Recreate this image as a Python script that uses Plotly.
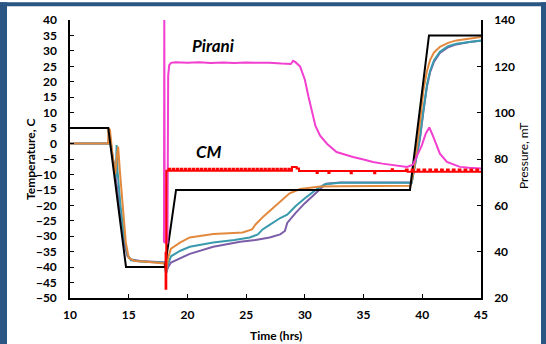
import plotly.graph_objects as go

# ---------------- data ----------------
black_t = [10, 13.26, 14.77, 18.09, 19.03, 38.95, 40.57, 45]
black_v = [5, 5, -40, -40, -15, -15, 35, 35]

orange_t = [10, 13.25, 13.27, 13.4, 13.6, 13.85, 14.0, 14.1, 14.25, 14.5,
            14.75, 15.0, 15.5, 16.5, 17.5, 18.05, 18.18, 18.35, 18.6, 19.0,
            19.4, 20.2, 21.0, 22.2, 23.5, 24.7, 25.5, 25.8, 26.5, 27.5,
            28.7, 29.6, 30.5, 31.3, 33.0, 36.0, 39.0, 39.3, 39.6, 39.8,
            40.1, 40.4, 40.66, 41.0, 41.5, 42.2, 42.9, 44.0, 45.0]
orange_v = [0, 0, 5, 4.5, -3, -10, -4, -1, -9, -22,
            -32, -37, -38, -38.3, -38.6, -38.8, -41.5, -37, -34, -33,
            -32, -30.4, -29.9, -29.3, -29, -28.8, -27.8, -26.2, -23.5, -20,
            -16.1, -14.7, -14.2, -13.9, -13.8, -13.7, -13.7, -8, 0, 6.8,
            17.4, 23.5, 27, 29.5, 31.3, 32.6, 33.4, 34.1, 34.5]

teal_t = [10, 13.25, 13.35, 13.6, 13.9, 13.97, 14.05, 14.3, 14.6, 14.9,
          15.2, 16.0, 17.0, 18.05, 18.18, 18.35, 18.6, 19.0, 19.4, 20.2,
          22.2, 24.0, 25.3, 26.0, 26.4, 27.0, 27.9, 28.5, 29.2, 30.0,
          31.1, 31.7, 33.0, 39.1, 39.4, 39.8, 40.1, 40.4, 40.66, 41.0,
          41.5, 42.2, 42.9, 44.0, 45.0]
teal_v = [0, 0, 2, -4, -11, -0.5, -9, -20, -30, -36,
          -37.8, -38.2, -38.4, -38.6, -42, -39, -36.5, -35.5, -34.7, -33.4,
          -32.0, -31.2, -30.4, -29.4, -27.8, -26.3, -24.1, -23, -20.3, -17.7,
          -14.5, -13.2, -12.7, -12.7, -6, 2, 11, 19, 23.5, 27,
          29.7, 31.5, 32.3, 33.0, 33.4]

purple_t = [10, 13.25, 13.4, 13.7, 14.0, 14.3, 14.6, 14.9, 15.2, 16.0,
            17.0, 18.05, 18.18, 18.35, 18.6, 19.0, 19.4, 20.2, 22.2, 24.5,
            25.8, 27.0, 27.9, 28.3, 28.5, 29.2, 30.0, 30.9, 31.3, 31.8,
            33.0, 39.1, 39.4, 39.8, 40.1, 40.4, 40.66, 41.0, 41.5, 42.2,
            42.9, 44.0, 45.0]
purple_v = [0, 0, 2, -6, -14, -24, -32, -36.5, -37.5, -38,
            -38.3, -38.5, -42, -40, -38.5, -37.8, -37.0, -35.7, -33.4, -31.8,
            -31.2, -30.4, -29.4, -28.3, -25.7, -22.5, -19.3, -16.1, -14.5, -13.0,
            -12.6, -12.6, -6.5, 1.5, 10.5, 18.5, 23, 26.5, 29.3, 31.2,
            32.1, 32.9, 33.3]

pirani_t = [18.0, 18.03, 18.07, 18.3, 18.36, 18.45, 18.6, 19.0, 20, 21,
            22, 23, 24, 25, 26, 27, 28, 28.8, 29.0, 29.2,
            29.6, 30.0, 30.3, 30.6, 30.9, 31.3, 31.9, 32.7, 33.4, 34.1,
            35.0, 35.8, 36.6, 37.5, 38.7, 39.2, 39.95, 40.3, 40.6, 40.9,
            41.5, 42.1, 43.2, 44.0, 45.0]
pirani_v = [44, 140, 44, 44, 116, 120.5, 121.5, 121.8, 121.5, 121.8,
            121.4, 121.7, 121.4, 121.7, 121.5, 121.6, 121.2, 121.0, 122.4, 121.8,
            119.9, 114.2, 107.1, 100, 94.3, 90.1, 86.5, 83.0, 81.8, 80.9,
            79.8, 78.7, 78.0, 77.3, 76.6, 77.5, 85.8, 91, 93.6, 90.1,
            82.3, 78.7, 76.6, 76.2, 75.9]

cm_t = [18.13, 18.14, 18.20,
        18.40, 18.52, 18.74, 18.86, 19.08, 19.20, 19.42, 19.54, 19.76, 19.88,
        20.10, 20.22, 20.44, 20.56, 20.78, 20.90, 21.12, 21.24, 21.46, 21.58,
        21.80, 21.92, 22.14, 22.26, 22.48, 22.60, 22.82, 22.94, 23.16, 23.28,
        23.50, 23.62, 23.84, 23.96, 24.18, 24.30, 24.52, 24.64, 24.86, 24.98,
        25.20, 25.32, 25.54, 25.66, 25.88, 26.00, 26.22, 26.34, 26.56, 26.68,
        26.90, 27.02, 27.24, 27.36, 27.58, 27.70, 27.92, 28.04, 28.26, 28.38,
        28.60, 28.72,
        28.90, 29.30, 29.50, 31.00, 31.10, 32.00, 32.10, 33.90, 34.00, 35.90,
        36.00, 37.40, 37.50,
        38.60, 38.75, 39.10, 39.25, 39.60, 39.75, 40.10, 40.25, 40.60, 40.75,
        41.10, 41.25, 41.60, 41.75, 42.10, 42.25, 42.60, 42.75, 43.10, 43.25,
        43.60, 43.75, 44.10, 44.25, 44.60, 44.75, 45.00]
cm_v = [40, 24, 74.9,
        75.8, 74.9, 75.8, 74.9, 75.8, 74.9, 75.8, 74.9, 75.8, 74.9,
        75.8, 74.9, 75.8, 74.9, 75.8, 74.9, 75.8, 74.9, 75.8, 74.9,
        75.8, 74.9, 75.8, 74.9, 75.8, 74.9, 75.8, 74.9, 75.8, 74.9,
        75.8, 74.9, 75.8, 74.9, 75.8, 74.9, 75.8, 74.9, 75.8, 74.9,
        75.8, 74.9, 75.8, 74.9, 75.8, 74.9, 75.8, 74.9, 75.8, 74.9,
        75.8, 74.9, 75.8, 74.9, 75.8, 74.9, 75.8, 74.9, 75.8, 74.9,
        75.8, 74.9,
        76.5, 75.9, 74.8, 74.0, 74.8, 74.0, 74.8, 73.9, 74.8, 73.9,
        74.8, 75.6, 74.8,
        75.5, 74.5, 75.5, 74.5, 75.5, 74.5, 75.5, 74.5, 75.5, 74.5,
        75.5, 74.5, 75.5, 74.5, 75.5, 74.5, 75.5, 74.5, 75.5, 74.5,
        75.5, 74.5, 75.5, 74.5, 75.5, 74.5, 74.5]

x_ticks = [10, 15, 20, 25, 30, 35, 40, 45]
temp_ticks = [-50, -45, -40, -35, -30, -25, -20, -15, -10, -5, 0, 5, 10, 15, 20, 25, 30, 35, 40]
pres_ticks = [20, 40, 60, 80, 100, 120, 140]

# ---------------- figure ----------------
FONT = "Lato"
fig = go.Figure()

def temp_line(t, v, color, width=2):
    fig.add_trace(go.Scatter(x=t, y=v, mode="lines", line=dict(color=color, width=width),
                             yaxis="y", showlegend=False, hoverinfo="skip"))

temp_line(purple_t, purple_v, "#7b5ea7")
temp_line(teal_t, teal_v, "#3a9aad")
temp_line(orange_t, orange_v, "#e2893d")
temp_line(black_t, black_v, "#000000")

fig.add_trace(go.Scatter(x=pirani_t, y=pirani_v, mode="lines",
                         line=dict(color="#f23fcf", width=2), yaxis="y2",
                         showlegend=False, hoverinfo="skip"))
fig.add_trace(go.Scatter(x=cm_t, y=cm_v, mode="lines",
                         line=dict(color="#ff0000", width=2, shape="hv"), yaxis="y2",
                         showlegend=False, hoverinfo="skip"))

tickfont = dict(family=FONT, size=12, color="#000000", weight="bold")
axis_common = dict(showline=True, linecolor="#000000", linewidth=1.5, ticks="inside",
                   ticklen=4, tickwidth=1, tickcolor="#000000", showgrid=False,
                   zeroline=False, tickfont=tickfont)

fig.update_layout(
    width=546, height=344, autosize=False,
    margin=dict(l=70, r=65, t=16, b=46),
    paper_bgcolor="#ffffff", plot_bgcolor="#ffffff",
    xaxis=dict(range=[10, 45], tickvals=x_ticks, ticklabelstandoff=5, **axis_common),
    yaxis=dict(range=[-50, 40], tickvals=temp_ticks, ticklabelstandoff=9, **axis_common),
    yaxis2=dict(range=[20, 140], tickvals=pres_ticks, overlaying="y", side="right",
                ticklabelstandoff=9, **axis_common),
)

W = 411.0
H = 282.0
def px(p):
    return (p - 70) / W
def py(p):
    return (298 - p) / H

annotations = [
    dict(text="Temperature, C", xref="paper", yref="paper", x=px(30), y=py(157),
         textangle=-90, showarrow=False, xanchor="center", yanchor="middle",
         font=dict(family=FONT, size=12, color="#000000", weight="bold")),
    dict(text="Pressure, mT", xref="paper", yref="paper", x=px(523), y=py(154),
         textangle=-90, showarrow=False, xanchor="center", yanchor="middle",
         font=dict(family=FONT, size=12, color="#000000")),
    dict(text="Time (hrs)", xref="paper", yref="paper", x=0.5, y=py(336),
         showarrow=False, xanchor="center", yanchor="middle",
         font=dict(family=FONT, size=12, color="#000000", weight="bold")),
    dict(text="<i>Pirani</i>", xref="x", yref="y", x=22.2, y=31.6, showarrow=False,
         xanchor="center", yanchor="middle",
         font=dict(family=FONT, size=17, color="#000000", weight="bold")),
    dict(text="<i>CM</i>", xref="x", yref="y", x=21.85, y=-2.6, showarrow=False,
         xanchor="center", yanchor="middle",
         font=dict(family=FONT, size=17, color="#000000", weight="bold")),
]
fig.update_layout(annotations=annotations)

BLUE = "#2b5684"
shapes = [
    dict(type="rect", xref="paper", yref="paper", x0=px(-2), x1=px(7), y0=py(350), y1=py(-2),
         fillcolor=BLUE, line=dict(width=0)),
    dict(type="rect", xref="paper", yref="paper", x0=px(541), x1=px(550), y0=py(350), y1=py(-2),
         fillcolor=BLUE, line=dict(width=0)),
    dict(type="rect", xref="paper", yref="paper", x0=px(-2), x1=px(550), y0=py(2), y1=py(-2),
         fillcolor=BLUE, line=dict(width=0)),
]
fig.update_layout(shapes=shapes)

fig.write_html("out.html", config={"displayModeBar": False},
               post_script="document.body.style.margin='0';document.body.style.overflow='hidden';")
